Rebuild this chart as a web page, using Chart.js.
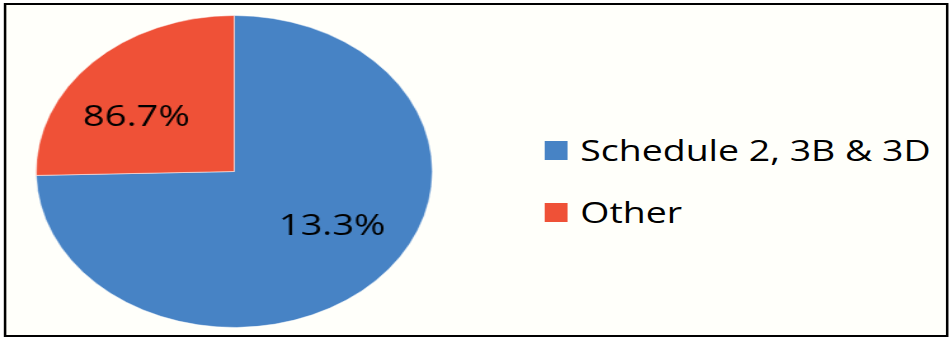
<!DOCTYPE html>
<html>
<head>
<meta charset="utf-8">
<script src="https://cdn.jsdelivr.net/npm/chart.js@4.4.0/dist/chart.umd.min.js"></script>
<style>
  html, body { margin: 0; padding: 0; background: #ffffff; }
  body { width: 951px; height: 338px; overflow: hidden; }
  /* the original picture is stretched sideways, so the whole thing is drawn narrow then widened */
  #wrap {
    position: absolute; left: 0; top: 0;
    width: 749px; height: 338px;
    transform: scaleX(1.2697); transform-origin: 0 0;
  }
  #frame {
    position: absolute; left: 3px; top: 3px;
    width: 740px; height: 330px;
    border: 2px solid #000; background: #fffffa;
  }
  #pieBox { position: absolute; left: 28.2px; top: 15px; width: 313px; height: 313px; }
  #legend { position: absolute; left: 429px; top: 130px; font-family: "Open Sans", sans-serif; font-size: 29.5px; color: #000; }
  .row { display: flex; align-items: center; height: 40px; margin-bottom: 22px; line-height: 1; }
  .box { width: 18px; height: 19px; margin-right: 10px; }
</style>
</head>
<body>
<div id="wrap">
  <div id="frame"></div>
  <div id="pieBox"><canvas id="pieChart"></canvas></div>
  <div id="legend"></div>
</div>
<script>
// Chart data
let categories = ['Schedule 2, 3B & 3D', 'Other'];
let sliceValues = [74.6, 25.4];          // slice sizes as drawn in the picture
let sliceLabels = ['13.3%', '86.7%'];    // text printed on the slices
let sliceColors = ['#4783c5', '#ef5137'];

// Labels on the slices
let sliceText = {
    id: 'sliceText',
    afterDatasetsDraw(chart) {
        let ctx = chart.ctx;
        let meta = chart.getDatasetMeta(0);
        ctx.save();
        ctx.font = '30px "Open Sans", sans-serif';
        ctx.fillStyle = '#000';
        ctx.textAlign = 'center';
        ctx.textBaseline = 'middle';
        meta.data.forEach(function(arc, i) {
            let mid = (arc.startAngle + arc.endAngle) / 2;
            let x = arc.x + Math.cos(mid) * arc.outerRadius * 0.69;
            let y = arc.y + Math.sin(mid) * arc.outerRadius * 0.5;
            ctx.fillText(sliceLabels[i], x, y);
        });
        ctx.restore();
    }
};

let ctx = document.getElementById('pieChart').getContext('2d');
let pieChart = new Chart(ctx, {
    type: 'pie',
    data: {
        labels: categories,
        datasets: [{
            data: sliceValues,
            backgroundColor: sliceColors,
            borderColor: 'rgba(255,255,255,0.5)',
            borderWidth: 1
        }]
    },
    options: {
        responsive: true,
        maintainAspectRatio: false,
        animation: false,
        layout: { padding: 0 },
        plugins: {
            legend: { display: false },
            tooltip: { enabled: false }
        }
    },
    plugins: [sliceText]
});

// Legend on the right
let legend = document.getElementById('legend');
categories.forEach(function(name, i) {
    let row = document.createElement('div');
    row.className = 'row';
    row.innerHTML = '<div class="box" style="background:' + sliceColors[i] + '"></div><span>' + name + '</span>';
    legend.appendChild(row);
});
</script>
</body>
</html>
